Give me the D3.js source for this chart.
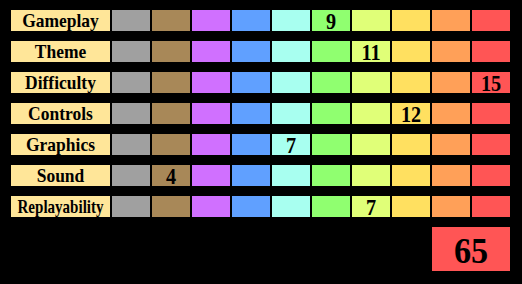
<!DOCTYPE html>
<html>
<head>
<meta charset="utf-8">
<script src="https://cdn.jsdelivr.net/npm/d3@7"></script>
<style>
  html, body { margin: 0; padding: 0; background: #000; }
  text { font-family: "Liberation Serif", "Times New Roman", serif; font-weight: bold; }
</style>
</head>
<body>
<div id="chart"></div>
<script>
// Rubriques et notes
const categories = ["Gameplay", "Theme", "Difficulty", "Controls", "Graphics", "Sound", "Replayability"];
const scores = [9, 11, 15, 12, 7, 4, 7];
// colonne (0-9) ou la note est affichee
const scoreColumn = [5, 6, 9, 7, 4, 1, 6];
const columnColors = ["#a0a0a0", "#a88858", "#d070ff", "#60a0ff", "#a8fff0",
                      "#90ff70", "#e0ff78", "#ffe060", "#ffa058", "#ff5555"];

const total = d3.sum(scores);

const width = 522, height = 284;

const svg = d3.select("#chart")
  .append("svg")
  .attr("width", width)
  .attr("height", height);

svg.append("rect")
  .attr("width", width)
  .attr("height", height)
  .attr("fill", "#000");

// Echelles
const y = d3.scaleBand()
  .domain(categories)
  .range([10, 217])
  .paddingInner(10 / 31);

const x = d3.scaleBand()
  .domain(d3.range(columnColors.length))
  .range([112, 510])
  .paddingInner(0.05);

// resserre un texte horizontalement (police plus etroite dans l'original)
function squeeze(sel, ratio, maxLen) {
  sel.each(function() {
    const len = Math.min(this.getComputedTextLength() * ratio, maxLen);
    d3.select(this).attr("textLength", len).attr("lengthAdjust", "spacingAndGlyphs");
  });
}

const rows = svg.append("g")
  .selectAll("g")
  .data(categories)
  .join("g")
  .attr("transform", d => "translate(0," + y(d) + ")");

// Etiquettes
rows.append("rect")
  .attr("x", 11)
  .attr("width", 99)
  .attr("height", y.bandwidth())
  .attr("fill", "#ffe699");

rows.append("text")
  .attr("x", 60.5)
  .attr("y", y.bandwidth() / 2)
  .attr("dy", "0.36em")
  .attr("text-anchor", "middle")
  .attr("font-size", 19)
  .attr("fill", "#000")
  .text(d => d)
  .call(squeeze, 0.92, 86);

// Cases de couleur
rows.selectAll("rect.cell")
  .data(columnColors)
  .join("rect")
  .attr("class", "cell")
  .attr("x", (d, i) => x(i))
  .attr("width", x.bandwidth())
  .attr("height", y.bandwidth())
  .attr("fill", d => d);

// Notes
rows.append("text")
  .attr("x", (d, i) => x(scoreColumn[i]) + x.bandwidth() / 2)
  .attr("y", y.bandwidth() / 2)
  .attr("dy", "0.37em")
  .attr("text-anchor", "middle")
  .attr("font-size", 23)
  .attr("fill", "#000")
  .text((d, i) => scores[i])
  .call(squeeze, 0.88, 100);

// Total
svg.append("rect")
  .attr("x", x(8))
  .attr("y", 227)
  .attr("width", x(9) + x.bandwidth() - x(8))
  .attr("height", 44)
  .attr("fill", columnColors[9]);

svg.append("text")
  .attr("x", (x(8) + x(9) + x.bandwidth()) / 2)
  .attr("y", 250)
  .attr("dy", "0.36em")
  .attr("text-anchor", "middle")
  .attr("font-size", 36)
  .attr("fill", "#000")
  .text(total)
  .call(squeeze, 0.95, 100);
</script>
</body>
</html>
